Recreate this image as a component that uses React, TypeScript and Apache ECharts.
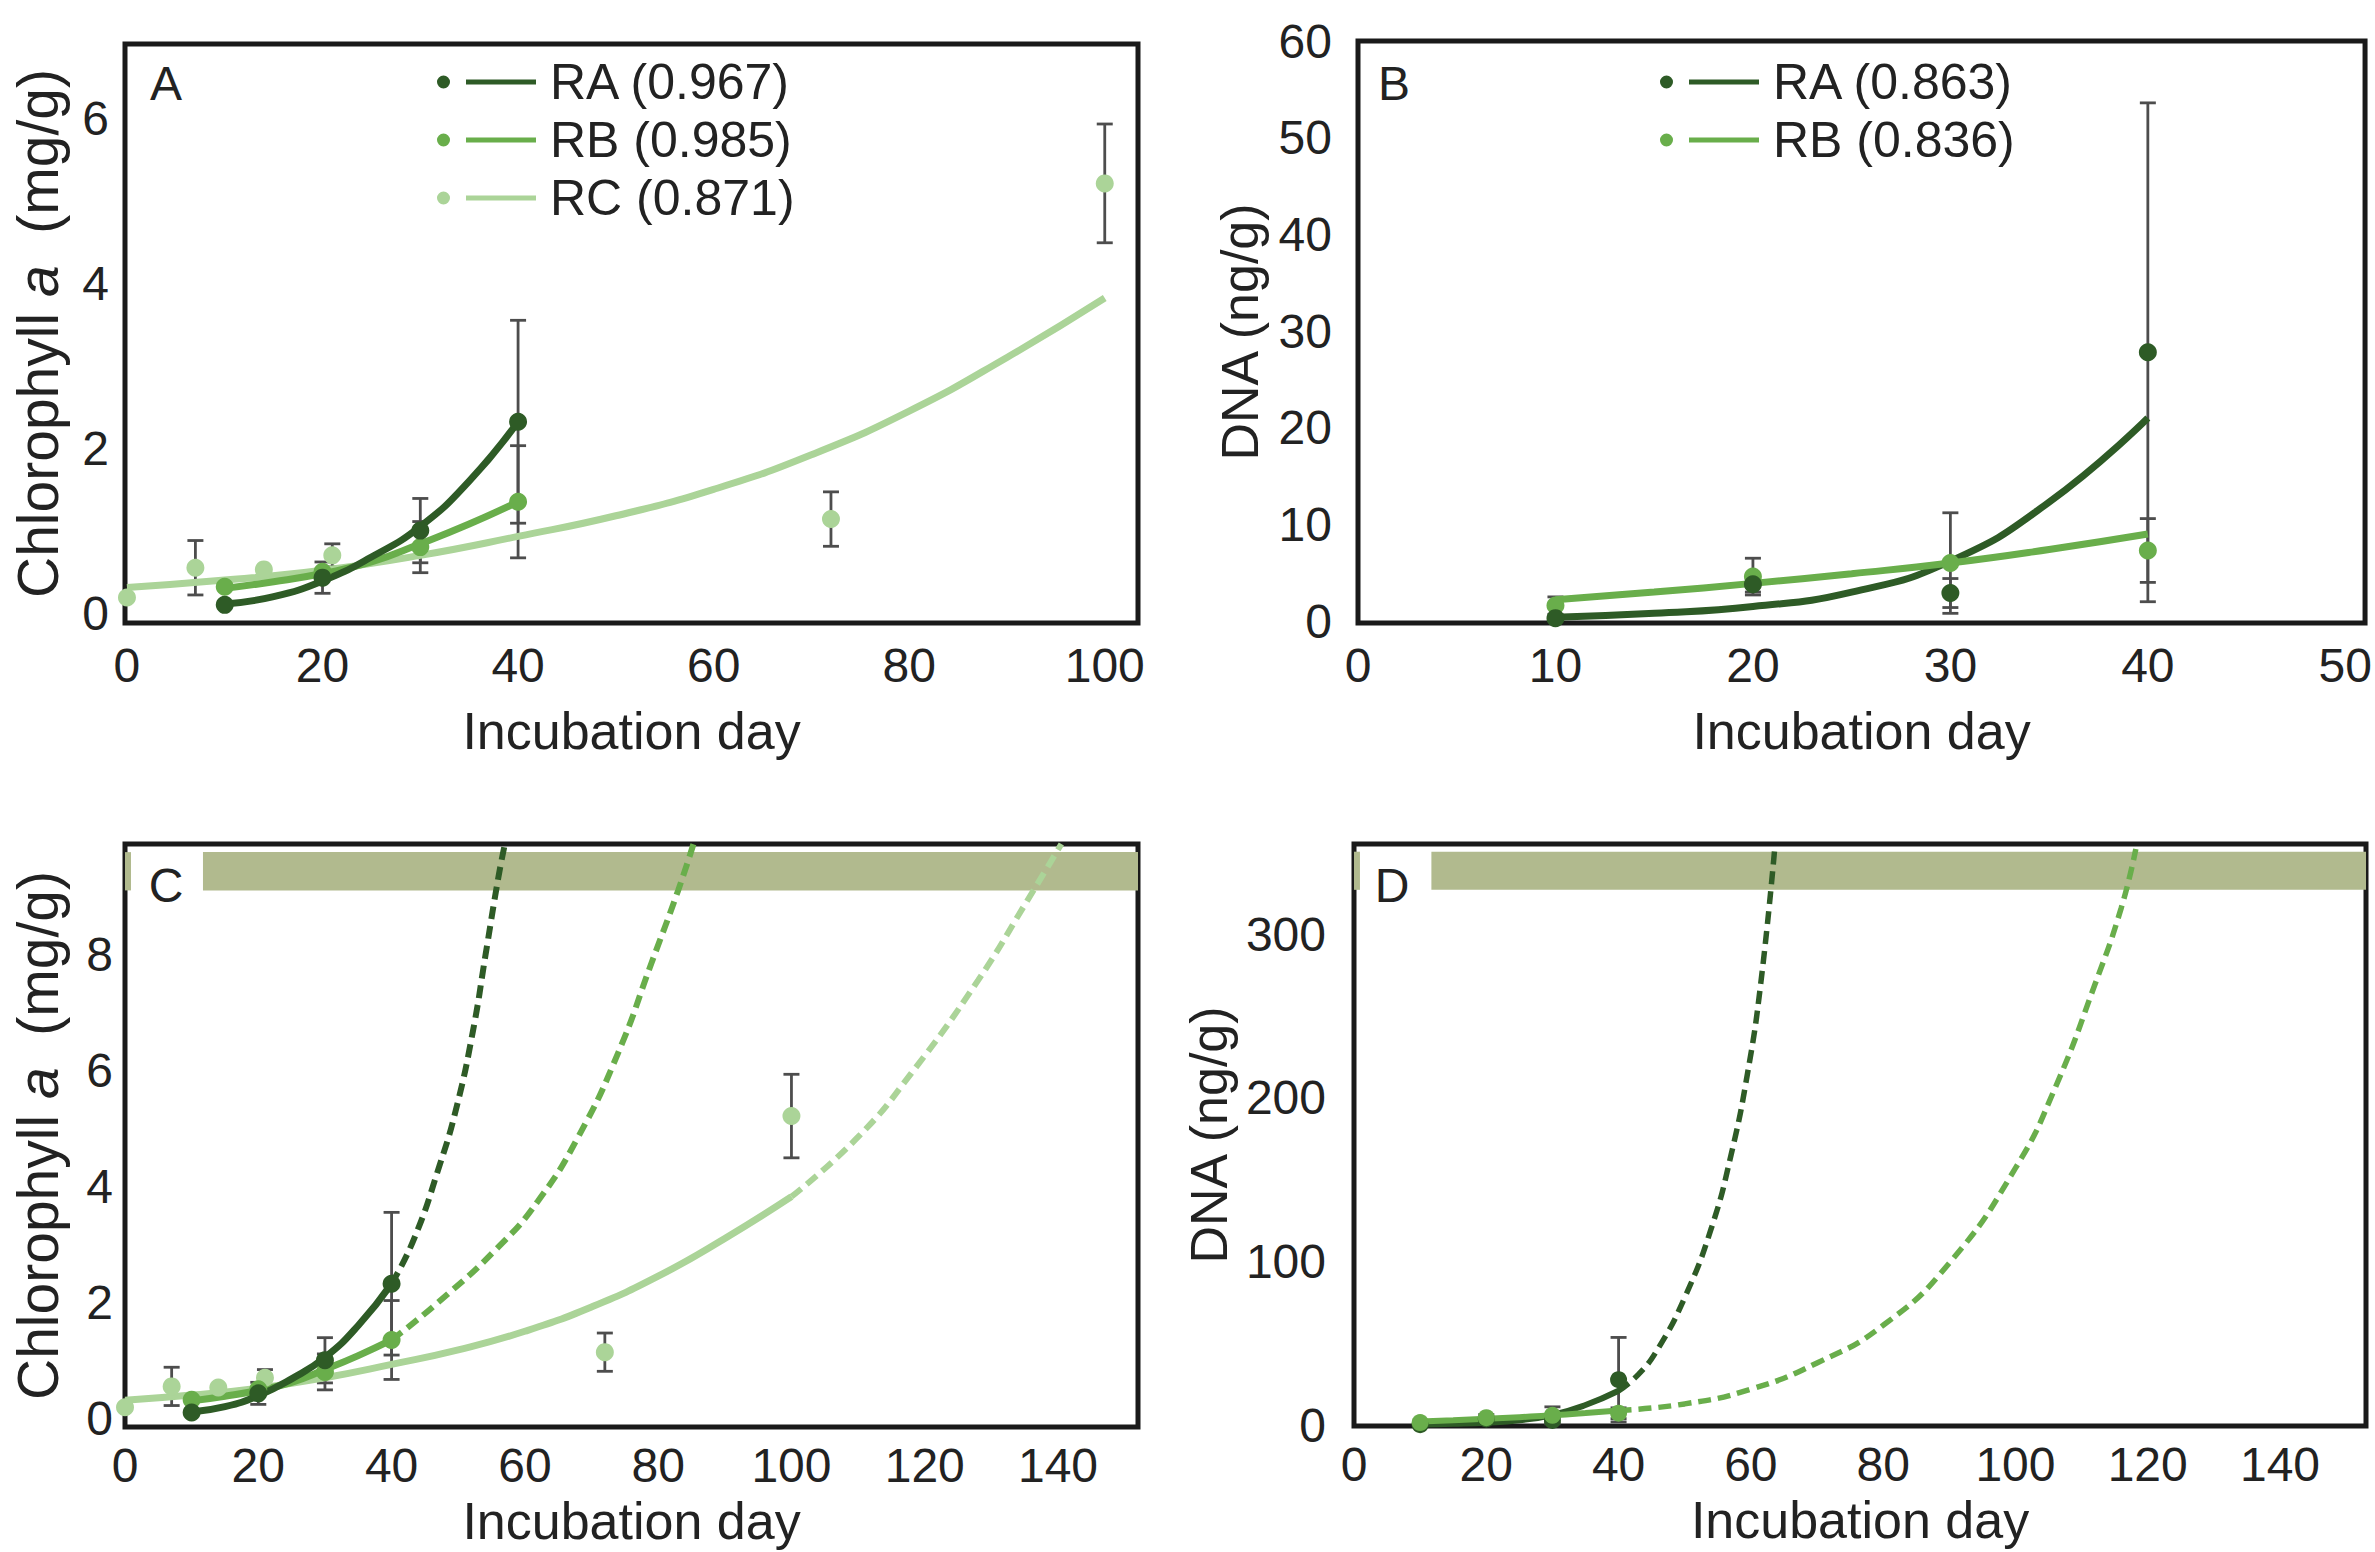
import React, { useEffect, useRef } from 'react';
import * as echarts from 'echarts';

const FONT = '"Liberation Sans", Arial, sans-serif';
const TEXT = '#222222';
const C_RA = '#2e5b26';
const C_RB = '#69ae4b';
const C_RC = '#abd498';
const BAND = '#b1ba8e';
const ERR = '#4d4d4d';

// ---------- Chlorophyll a (panels A and C) ----------
const chlDaysRA = [10, 20, 30, 40];
const chlMeanRA = [0.10, 0.43, 1.00, 2.32];
const chlErrRA = [0, 0.19, 0.39, 1.23];
const chlDaysRB = [10, 20, 30, 40];
const chlMeanRB = [0.32, 0.50, 0.80, 1.35];
const chlErrRB = [0, 0, 0.31, 0.68];
const chlDaysRC = [0, 7, 14, 21, 72, 100];
const chlMeanRC = [0.19, 0.55, 0.53, 0.70, 1.14, 5.21];
const chlErrRC = [0, 0.33, 0, 0.14, 0.33, 0.72];

// fitted curves
const chlFitRAx = [10, 15, 20, 25, 30, 35, 40];
const chlFitRAy = [0.11, 0.20, 0.39, 0.68, 1.05, 1.60, 2.32];
const chlFitRBx = [10, 15, 20, 25, 30, 35, 40];
const chlFitRBy = [0.30, 0.38, 0.48, 0.62, 0.84, 1.08, 1.35];
const chlFitRCx = [0, 10, 20, 30, 40, 50, 60, 70, 80, 90, 100];
const chlFitRCy = [0.31, 0.40, 0.52, 0.70, 0.93, 1.18, 1.50, 1.92, 2.45, 3.10, 3.82];
// extrapolations (panel C, dashed)
const chlExtRAx = [40, 43.4, 47.2, 49.7, 52.2, 54.1, 56.0, 57.0];
const chlExtRAy = [2.32, 3.1, 4.36, 5.34, 6.67, 7.99, 9.31, 9.9];
const chlExtRBx = [40, 47, 56, 62, 68, 74, 79, 83, 85.3];
const chlExtRBy = [1.35, 2.0, 2.95, 3.75, 4.85, 6.3, 7.85, 9.1, 9.9];
const chlExtRCx = [100, 110, 118, 128, 135, 140.5];
const chlExtRCy = [3.82, 4.85, 5.95, 7.55, 8.85, 9.9];

// ---------- DNA (panels B and D) ----------
const dnaDaysRA = [10, 20, 30, 40];
const dnaMeanRA = [0.3, 3.8, 2.9, 27.8];
const dnaErrRA = [0, 0.8, 1.5, 25.8];
const dnaDaysRB = [10, 20, 30, 40];
const dnaMeanRB = [1.6, 4.6, 6.0, 7.3];
const dnaErrRB = [0.9, 1.9, 5.2, 3.3];

const dnaFitRAx = [10, 15, 20, 25, 30, 35, 40];
const dnaFitRAy = [0.4, 0.8, 1.5, 3.0, 6.2, 12.3, 21.0];
const dnaFitRBx = [10, 15, 20, 25, 30, 35, 40];
const dnaFitRBy = [2.2, 3.0, 3.9, 4.9, 6.0, 7.4, 9.0];
const dnaExtRAx = [40, 43, 46, 50, 54, 57, 59.5, 61.5, 63.6];
const dnaExtRAy = [21, 31, 47, 78, 120, 165, 215, 270, 352];
const dnaExtRBx = [40, 50, 60, 70, 80, 90, 100, 106, 112, 116, 118.2];
const dnaExtRBy = [9, 13, 22, 38, 61, 99, 157, 206, 269, 316, 352];

// ---------- axes ----------
const ticksA_x = [0, 20, 40, 60, 80, 100];
const ticksA_y = [0, 2, 4, 6];
const ticksB_x = [0, 10, 20, 30, 40, 50];
const ticksB_y = [0, 10, 20, 30, 40, 50, 60];
const ticksC_x = [0, 20, 40, 60, 80, 100, 120, 140];
const ticksC_y = [0, 2, 4, 6, 8];
const ticksD_x = [0, 20, 40, 60, 80, 100, 120, 140];
const ticksD_y = [0, 100, 200, 300];

const legendA = ['RA (0.967)', 'RB (0.985)', 'RC (0.871)'];
const legendB = ['RA (0.863)', 'RB (0.836)'];

const ICON = 'path://M0,6.5a6.5,6.5 0 1,0 13,0a6.5,6.5 0 1,0 -13,0zM29,4h70v5h-70z';

const zip = (xs: number[], ys: number[]) => xs.map((x, i) => [x, ys[i]]);
const errData = (xs: number[], ms: number[], es: number[]) =>
  xs.map((x, i) => [x, ms[i] - es[i], ms[i] + es[i]]).filter((_, i) => es[i] > 0);

function errorSeries(g: number, data: number[][]) {
  return {
    type: 'custom',
    xAxisIndex: g,
    yAxisIndex: g,
    z: 3,
    silent: true,
    data,
    encode: { x: 0, y: [1, 2] },
    renderItem: (_p: any, api: any) => {
      const x = api.value(0);
      const lo = api.coord([x, api.value(1)]);
      const hi = api.coord([x, api.value(2)]);
      const w = 8;
      const st = { stroke: ERR, lineWidth: 2.8 };
      return {
        type: 'group',
        children: [
          { type: 'line', shape: { x1: lo[0], y1: lo[1], x2: hi[0], y2: hi[1] }, style: st },
          { type: 'line', shape: { x1: lo[0] - w, y1: lo[1], x2: lo[0] + w, y2: lo[1] }, style: st },
          { type: 'line', shape: { x1: hi[0] - w, y1: hi[1], x2: hi[0] + w, y2: hi[1] }, style: st },
        ],
      };
    },
  };
}

function lineSeries(g: number, data: number[][], color: string, dashed: boolean, width: number) {
  return {
    type: 'line',
    xAxisIndex: g,
    yAxisIndex: g,
    z: 4,
    silent: true,
    smooth: 0.5,
    showSymbol: false,
    symbol: 'none',
    data,
    lineStyle: { color, width, type: dashed ? [13, 7] : 'solid', cap: 'butt' },
  };
}

function pointSeries(g: number, name: string, data: number[][], color: string, size: number) {
  return {
    type: 'scatter',
    name,
    xAxisIndex: g,
    yAxisIndex: g,
    z: 5,
    silent: true,
    symbol: 'circle',
    symbolSize: size,
    data,
    itemStyle: { color, opacity: 1 },
  };
}

function bandSeries(g: number, xStart: number, xEnd: number, y0: number, y1: number) {
  return {
    type: 'line',
    xAxisIndex: g,
    yAxisIndex: g,
    z: 1,
    silent: true,
    data: [],
    markArea: {
      silent: true,
      itemStyle: { color: BAND, opacity: 1 },
      data: [
        [{ xAxis: xStart, yAxis: y0 }, { xAxis: xEnd, yAxis: y1 }],
        [{ xAxis: 0, yAxis: y0 }, { xAxis: 0.9, yAxis: y1 }],
      ],
    },
  };
}

function xAxis(g: number, min: number, max: number, ticks: number[], gap: number, margin: number) {
  return {
    type: 'value',
    gridIndex: g,
    min,
    max,
    axisLine: { show: false },
    axisTick: { show: false },
    splitLine: { show: false },
    axisLabel: { customValues: ticks, fontSize: 48, color: TEXT, fontFamily: FONT, margin },
    name: 'Incubation day',
    nameLocation: 'middle',
    nameGap: gap,
    nameTextStyle: { fontSize: 52, lineHeight: 56, color: TEXT, fontFamily: FONT },
  };
}

function yAxis(g: number, min: number, max: number, ticks: number[], name: string, size: number, gap: number, margin: number) {
  return {
    type: 'value',
    gridIndex: g,
    min,
    max,
    axisLine: { show: false },
    axisTick: { show: false },
    splitLine: { show: false },
    axisLabel: { customValues: ticks, fontSize: 48, color: TEXT, fontFamily: FONT, margin },
    name,
    nameLocation: 'middle',
    nameGap: gap,
    nameTextStyle: {
      fontSize: size,
      color: TEXT,
      fontFamily: FONT,
      rich: {
        n: { fontSize: size, color: TEXT, fontFamily: FONT },
        i: { fontSize: size, color: TEXT, fontFamily: FONT, fontStyle: 'italic' },
      },
    },
  };
}

const legendCommon = {
  orient: 'vertical',
  itemWidth: 99,
  itemHeight: 13,
  itemGap: 8,
  icon: ICON,
  selectedMode: false,
  textStyle: { fontSize: 50, lineHeight: 50, color: TEXT, fontFamily: FONT, padding: [0, 0, 0, 9] },
};

function letter(t: string, x: number, y: number) {
  return {
    type: 'text',
    x,
    y,
    z: 50,
    silent: true,
    style: {
      text: t,
      font: `48px ${FONT}`,
      fill: TEXT,
      textAlign: 'center',
      textVerticalAlign: 'middle',
      align: 'center',
      verticalAlign: 'middle',
    },
  };
}

export default function App() {
  const ref = useRef<HTMLDivElement>(null);
  useEffect(() => {
    if (!ref.current) return;
    const chart = echarts.init(ref.current, undefined, { renderer: 'svg' });
    const chlName = '{n|Chlorophyll }{i|a}{n|  (mg/g)}';
    const dnaName = 'DNA (ng/g)';
    const option: any = {
      animation: false,
      backgroundColor: '#ffffff',
      grid: [
        { left: 125, top: 44, width: 1013, height: 579 },
        { left: 1358, top: 41, width: 1008, height: 582 },
        { left: 125, top: 844, width: 1013, height: 583 },
        { left: 1354, top: 844, width: 1012, height: 582 },
      ].map((g) => ({ ...g, show: true, borderColor: '#1a1a1a', borderWidth: 5, backgroundColor: 'transparent' })),
      xAxis: [
        xAxis(0, -0.2, 103.4, ticksA_x, 80, 18),
        xAxis(1, 0, 51, ticksB_x, 80, 18),
        xAxis(2, 0, 152, ticksC_x, 66, 14),
        xAxis(3, 0, 153, ticksD_x, 66, 14),
      ],
      yAxis: [
        yAxis(0, -0.12, 6.9, ticksA_y, chlName, 57, 59, 16),
        yAxis(1, -0.2, 60, ticksB_y, dnaName, 52, 92, 26),
        yAxis(2, -0.15, 9.9, ticksC_y, chlName, 57, 59, 12),
        yAxis(3, -0.5, 355, ticksD_y, dnaName, 52, 119, 28),
      ],
      legend: [
        { ...legendCommon, data: legendA, left: 432, top: 52 },
        { ...legendCommon, data: legendB, left: 1655, top: 52 },
      ],
      graphic: [letter('A', 166, 83), letter('B', 1394, 83), letter('C', 166, 885), letter('D', 1392, 885)],
      series: [
        // ----- Panel A -----
        errorSeries(0, [
          ...errData(chlDaysRA, chlMeanRA, chlErrRA),
          ...errData(chlDaysRB, chlMeanRB, chlErrRB),
          ...errData(chlDaysRC, chlMeanRC, chlErrRC),
        ]),
        lineSeries(0, zip(chlFitRCx, chlFitRCy), C_RC, false, 7),
        lineSeries(0, zip(chlFitRBx, chlFitRBy), C_RB, false, 7),
        lineSeries(0, zip(chlFitRAx, chlFitRAy), C_RA, false, 7),
        pointSeries(0, legendA[2], zip(chlDaysRC, chlMeanRC), C_RC, 18),
        pointSeries(0, legendA[1], zip(chlDaysRB, chlMeanRB), C_RB, 18),
        pointSeries(0, legendA[0], zip(chlDaysRA, chlMeanRA), C_RA, 18),
        // ----- Panel B -----
        errorSeries(1, [
          ...errData(dnaDaysRA, dnaMeanRA, dnaErrRA),
          ...errData(dnaDaysRB, dnaMeanRB, dnaErrRB),
        ]),
        lineSeries(1, zip(dnaFitRAx, dnaFitRAy), C_RA, false, 7),
        lineSeries(1, zip(dnaFitRBx, dnaFitRBy), C_RB, false, 7),
        pointSeries(1, legendB[1], zip(dnaDaysRB, dnaMeanRB), C_RB, 18),
        pointSeries(1, legendB[0], zip(dnaDaysRA, dnaMeanRA), C_RA, 18),
        // ----- Panel C -----
        bandSeries(2, 11.7, 152, 9.1, 9.76),
        errorSeries(2, [
          ...errData(chlDaysRA, chlMeanRA, chlErrRA),
          ...errData(chlDaysRB, chlMeanRB, chlErrRB),
          ...errData(chlDaysRC, chlMeanRC, chlErrRC),
        ]),
        lineSeries(2, zip(chlFitRCx, chlFitRCy), C_RC, false, 7),
        lineSeries(2, zip(chlExtRCx, chlExtRCy), C_RC, true, 6),
        lineSeries(2, zip(chlFitRBx, chlFitRBy), C_RB, false, 7),
        lineSeries(2, zip(chlExtRBx, chlExtRBy), C_RB, true, 6),
        lineSeries(2, zip(chlFitRAx, chlFitRAy), C_RA, false, 7),
        lineSeries(2, zip(chlExtRAx, chlExtRAy), C_RA, true, 6),
        pointSeries(2, 'RC C', zip(chlDaysRC, chlMeanRC), C_RC, 18),
        pointSeries(2, 'RB C', zip(chlDaysRB, chlMeanRB), C_RB, 18),
        pointSeries(2, 'RA C', zip(chlDaysRA, chlMeanRA), C_RA, 18),
        // ----- Panel D -----
        bandSeries(3, 11.7, 153, 327, 350.3),
        errorSeries(3, [
          ...errData(dnaDaysRA, dnaMeanRA, dnaErrRA),
          ...errData(dnaDaysRB, dnaMeanRB, dnaErrRB),
        ]),
        lineSeries(3, zip(dnaFitRAx, dnaFitRAy), C_RA, false, 6),
        lineSeries(3, zip(dnaExtRAx, dnaExtRAy), C_RA, true, 5.5),
        lineSeries(3, zip(dnaFitRBx, dnaFitRBy), C_RB, false, 6),
        lineSeries(3, zip(dnaExtRBx, dnaExtRBy), C_RB, true, 5.5),
        pointSeries(3, 'RA D', zip(dnaDaysRA, dnaMeanRA), C_RA, 17),
        pointSeries(3, 'RB D', zip(dnaDaysRB, dnaMeanRB), C_RB, 17),
      ],
    };
    chart.setOption(option);
    return () => chart.dispose();
  }, []);
  return (
    <div
      ref={ref}
      style={{ position: 'absolute', left: 0, top: 0, width: 2375, height: 1552, background: '#fff' }}
    />
  );
}
